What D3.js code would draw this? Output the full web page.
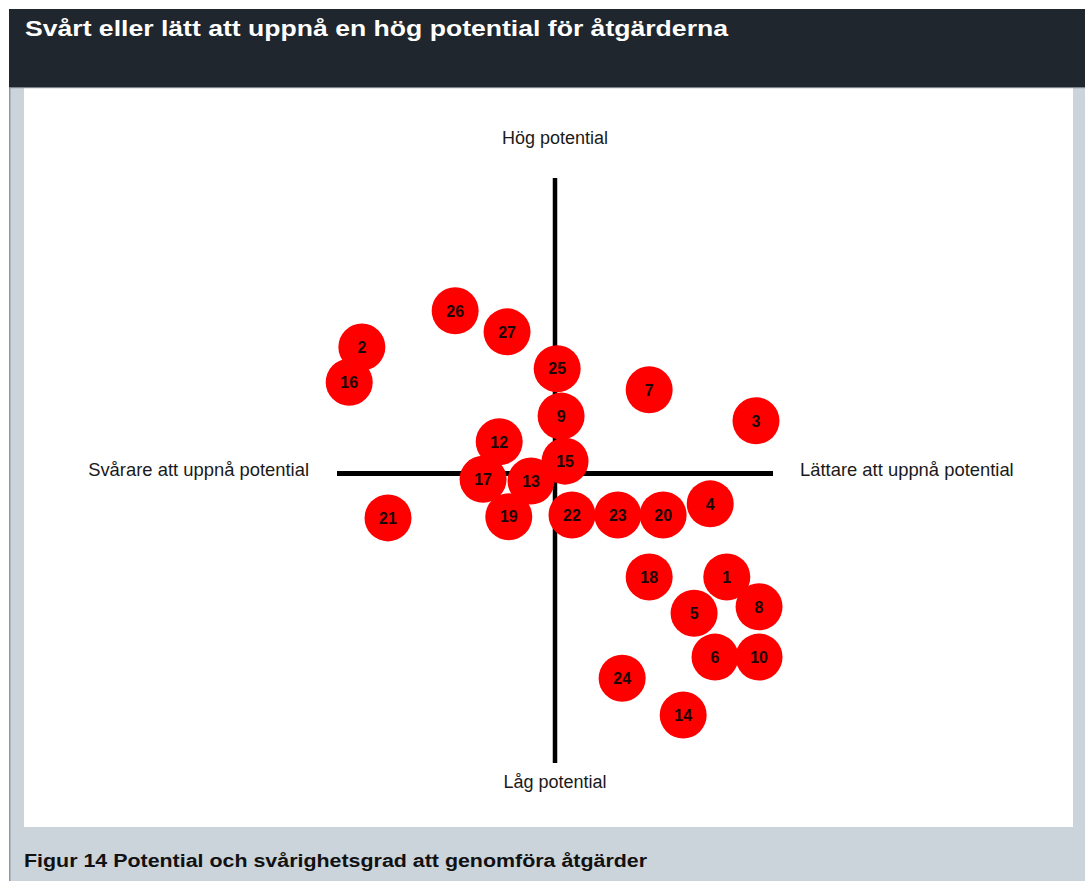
<!DOCTYPE html>
<html>
<head>
<meta charset="utf-8">
<script src="https://cdn.jsdelivr.net/npm/d3@7"></script>
<style>
  html, body { margin: 0; padding: 0; background: #ffffff; }
  svg { display: block; }
  text { font-family: "Liberation Sans", Arial, sans-serif; }
</style>
</head>
<body>
<div id="chart"></div>
<script>
// ---- Data ----
const ids = [1, 2, 3, 4, 5, 6, 7, 8, 9, 10, 12, 13, 14, 15, 16, 17, 18, 19, 20, 21, 22, 23, 24, 25, 26, 27];
// ease of achieving potential (0 = harder, 100 = easier)
const ease = [89.4, 5.7, 96.1, 85.6, 81.9, 86.7, 71.6, 96.8, 51.4, 96.8, 37.2, 44.5, 79.4, 52.3, 2.8, 33.5, 71.6, 39.4, 74.8, 11.7, 53.9, 64.4, 65.4, 50.5, 27.1, 39.0];
// potential (0 = low, 100 = high)
const potential = [31.8, 71.1, 58.5, 44.3, 25.6, 18.1, 63.8, 26.7, 59.3, 18.1, 54.9, 48.2, 8.2, 51.6, 65.1, 48.5, 31.8, 42.1, 42.4, 41.9, 42.4, 42.4, 14.5, 67.4, 77.3, 73.7];
const axisCross = [50, 49.5];   // x value of vertical axis, y value of horizontal axis
const axisLabels = ["Hög potential", "Låg potential", "Svårare att uppnå potential", "Lättare att uppnå potential"];
const titleText = "Svårt eller lätt att uppnå en hög potential för åtgärderna";
const captionText = "Figur 14 Potential och svårighetsgrad att genomföra åtgärder";

// ---- Layout ----
const W = 1085, H = 881;
const svg = d3.select("#chart").append("svg").attr("width", W).attr("height", H);

// outer frame
svg.append("rect").attr("x", 9).attr("y", 88).attr("width", W - 9).attr("height", H - 88).attr("fill", "#cbd3db");
svg.append("rect").attr("x", 9).attr("y", 88).attr("width", 1.5).attr("height", H - 88).attr("fill", "#8e9aa6");
svg.append("rect").attr("x", 24).attr("y", 88).attr("width", 1049).attr("height", 739).attr("fill", "#ffffff");
svg.append("rect").attr("x", 9).attr("y", 9).attr("width", W - 9).attr("height", 79).attr("fill", "#20262d");
svg.append("rect").attr("x", 9).attr("y", 87).attr("width", W - 9).attr("height", 1.2).attr("fill", "#7d8389");

svg.append("text").attr("x", 25).attr("y", 36)
  .attr("fill", "#ffffff").attr("font-size", 22.5).attr("font-weight", "bold")
  .attr("textLength", 703).attr("lengthAdjust", "spacingAndGlyphs")
  .text(titleText);

svg.append("text").attr("x", 24).attr("y", 867)
  .attr("fill", "#111111").attr("font-size", 18).attr("font-weight", "bold")
  .attr("textLength", 623).attr("lengthAdjust", "spacingAndGlyphs")
  .text(captionText);

// ---- Scales ----
const x = d3.scaleLinear().domain([0, 100]).range([337, 773]);
const y = d3.scaleLinear().domain([0, 100]).range([763, 178]);

const g = svg.append("g");

// axes (quadrant cross)
g.append("line")
  .attr("x1", x(axisCross[0])).attr("x2", x(axisCross[0]))
  .attr("y1", y(100)).attr("y2", y(0))
  .attr("stroke", "#000").attr("stroke-width", 4.5);
g.append("line")
  .attr("x1", x(0)).attr("x2", x(100))
  .attr("y1", y(axisCross[1])).attr("y2", y(axisCross[1]))
  .attr("stroke", "#000").attr("stroke-width", 5);

// axis labels
const lab = { fill: "#1a1a1a", size: 18 };
g.append("text").attr("x", x(axisCross[0])).attr("y", 144).attr("text-anchor", "middle")
  .attr("font-size", lab.size).attr("fill", lab.fill).text(axisLabels[0]);
g.append("text").attr("x", x(axisCross[0])).attr("y", 788).attr("text-anchor", "middle")
  .attr("font-size", lab.size).attr("fill", lab.fill).text(axisLabels[1]);
g.append("text").attr("x", 309).attr("y", 476).attr("text-anchor", "end")
  .attr("font-size", 18.4).attr("fill", lab.fill).text(axisLabels[2]);
g.append("text").attr("x", 800).attr("y", 476).attr("text-anchor", "start")
  .attr("font-size", 18.4).attr("fill", lab.fill).text(axisLabels[3]);

// points
const pts = ids.map((id, i) => ({ id, ex: ease[i], pot: potential[i] }));
const node = g.selectAll("g.pt").data(pts).join("g").attr("class", "pt")
  .attr("transform", d => `translate(${x(d.ex)},${y(d.pot)})`);
node.append("circle").attr("r", 23.5).attr("fill", "#ff0000");
node.append("text").attr("text-anchor", "middle").attr("dy", "0.36em")
  .attr("font-size", 16).attr("font-weight", "bold").attr("fill", "#1c0505")
  .text(d => d.id);
</script>
</body>
</html>
